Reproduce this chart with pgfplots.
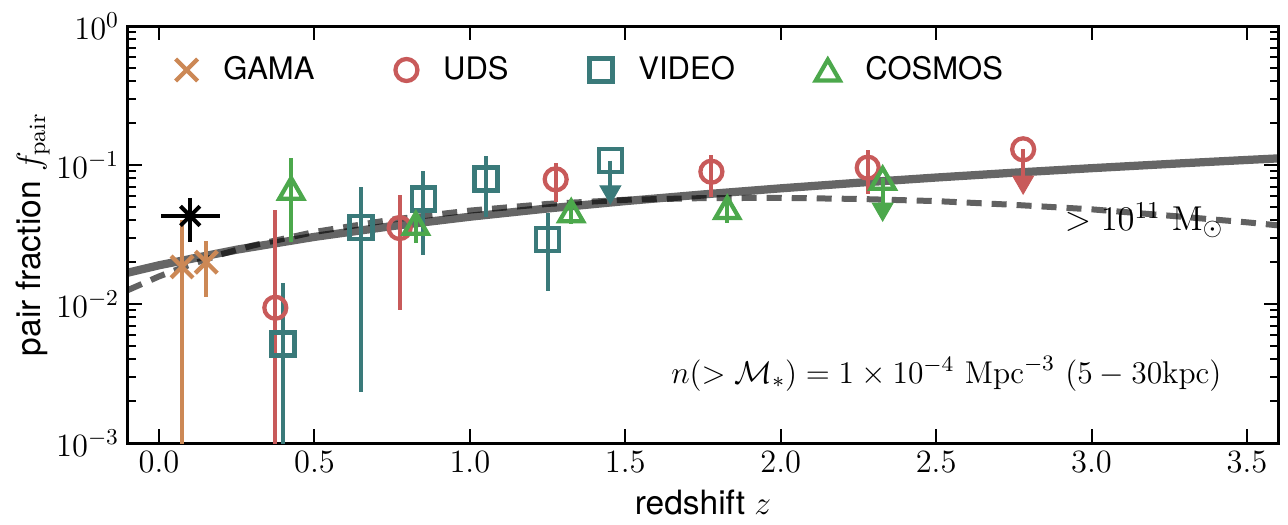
\RequirePackage{fix-cm}
\documentclass[border=0pt]{standalone}
\usepackage{pgfplots}
\pgfplotsset{compat=1.18}
\usepackage{fontspec}
\newfontfamily\heros{TeX Gyre Heros}
\definecolor{gama}{HTML}{CC8855}
\definecolor{uds}{HTML}{C85A5A}
\definecolor{video}{HTML}{3A7A7A}
\definecolor{cosmos}{HTML}{4CA84C}
\begin{document}
\begin{tikzpicture}
\begin{axis}[
 name=ax, scale only axis, width=460pt, height=166.8pt,
 ymode=log, xmin=-0.1, xmax=3.6, ymin=1e-3, ymax=1,
 xtick={0,0.5,1,1.5,2,2.5,3,3.5},
 xticklabel style={/pgf/number format/.cd, fixed, fixed zerofill, precision=1},
 minor x tick num=0,
 tick pos=both, tick align=inside,
 major tick length=5.6pt, minor tick length=3.2pt,
 every tick/.style={black, line width=0.8pt},
 axis line style={line width=1.2pt},
 tick label style={font=\fontsize{13}{15}\selectfont},
 label style={font=\heros\fontsize{13.4}{16}\selectfont},
 xlabel={redshift $z$}, ylabel={pair fraction $f_{\mathrm{pair}}$},
 ylabel style={at={(axis description cs:-0.083,0.5)}, anchor=center},
 legend style={at={(0.041,0.8945)}, anchor=west, draw=none, fill=none,
   inner sep=0pt, font=\heros\fontsize{12.4}{14}\selectfont,
   /tikz/every odd column/.append style={column sep=8.3pt},
   /tikz/every even column/.append style={column sep=30.4pt}},
 legend columns=4,
 legend image code/.code={\draw[#1, mark repeat=1] plot coordinates {(0pt,0pt)};},
]
% model curves
\addplot[black, opacity=0.6, line width=3.3pt, forget plot] coordinates {
(-0.1,0.01682)(0,0.0190)(0.25,0.02461)(0.5,0.03041)(0.75,0.03637)(1.0,0.04246)
(1.25,0.04867)(1.5,0.0550)(1.75,0.06143)(2.0,0.06796)(2.25,0.07457)(2.5,0.08126)
(2.75,0.08804)(3.0,0.09488)(3.25,0.10178)(3.5,0.10876)(3.6,0.11158)};
\addplot[black, opacity=0.62, line width=2.4pt, dash pattern=on 6pt off 4pt, forget plot] coordinates {
(-0.1,0.0126)(0,0.0158)(0.1,0.0192)(0.2,0.0228)(0.3,0.0263)(0.5,0.0330)(0.75,0.0405)
(1.0,0.0470)(1.25,0.0525)(1.5,0.0562)(1.75,0.0578)(2.0,0.0580)(2.25,0.0570)(2.5,0.0550)
(2.75,0.0517)(3.0,0.0480)(3.25,0.0432)(3.5,0.0387)(3.6,0.0368)};
% black reference point
\addplot[only marks, mark=x, mark size=5.5pt, black, mark options={line width=1.6pt}, forget plot,
  error bars/.cd, x dir=both, x explicit, y dir=both, y explicit, error mark=none,
  error bar style={line width=1.5pt, black}]
  coordinates {(0.10,0.043) +- (0.095,0.015)};
% GAMA
\addplot[only marks, mark=x, mark size=6.2pt, gama, mark options={line width=1.7pt},
  error bars/.cd, y dir=both, y explicit, error mark=none, error bar style={line width=1.6pt, gama}]
  table[x=z, y=f, y error plus=ep, y error minus=em] {
z f ep em
0.074 0.0185 0.0215 0.018
0.152 0.0200 0.0084 0.0088
};
\addlegendentry{GAMA}
% UDS
\addplot[only marks, mark=o, mark size=4.4pt, uds, mark options={fill=white, line width=1.7pt},
  error bars/.cd, y dir=both, y explicit, error mark=none, error bar style={line width=1.6pt, uds}]
  table[x=z, y=f, y error plus=ep, y error minus=em] {
z f ep em
0.374 0.0094 0.0381 0.0089
0.774 0.0352 0.0256 0.0261
1.276 0.0789 0.0241 0.0245
1.777 0.0895 0.0285 0.0305
2.280 0.0957 0.0323 0.0339
};
\addlegendentry{UDS}
% VIDEO
\addplot[only marks, mark=square, mark size=4.6pt, video, mark options={fill=white, line width=1.8pt},
  error bars/.cd, y dir=both, y explicit, error mark=none, error bar style={line width=1.6pt, video}]
  table[x=z, y=f, y error plus=ep, y error minus=em] {
z f ep em
0.398 0.00515 0.00901 0.00465
0.650 0.0354 0.0341 0.03306
0.850 0.0569 0.0341 0.0344
1.052 0.0793 0.0367 0.0373
1.250 0.0292 0.0162 0.0167
};
\addlegendentry{VIDEO}
% COSMOS
\addplot[only marks, mark=triangle, mark size=5.5pt, cosmos, mark options={fill=white, line width=1.7pt, yshift=-1.4pt},
  error bars/.cd, y dir=both, y explicit, error mark=none, error bar style={line width=1.6pt, cosmos}]
  table[x=z, y=f, y error plus=ep, y error minus=em] {
z f ep em
0.425 0.068 0.044 0.040
0.826 0.038 0.011 0.0105
1.326 0.0467 0.0083 0.009
1.828 0.0493 0.0087 0.0108
};
\addlegendentry{COSMOS}
% upper limits (marker plus downward arrow)
\addplot[only marks, mark=o, mark size=4.4pt, uds, mark options={fill=white, line width=1.7pt}, forget plot,
  error bars/.cd, y dir=minus, y explicit,
  error mark=triangle*, error mark options={rotate=270, mark size=4.8pt, fill=uds, draw=uds, line width=0.4pt},
  error bar style={line width=1.6pt, uds}]
  table[x=z, y=f, y error minus=em] {
z f em
2.78 0.1297 0.0579
};
\addplot[only marks, mark=square, mark size=4.6pt, video, mark options={fill=white, line width=1.8pt}, forget plot,
  error bars/.cd, y dir=minus, y explicit,
  error mark=triangle*, error mark options={rotate=270, mark size=4.8pt, fill=video, draw=video, line width=0.4pt},
  error bar style={line width=1.6pt, video}]
  table[x=z, y=f, y error minus=em] {
z f em
1.452 0.1074 0.0463
};
\addplot[only marks, mark=triangle, mark size=5.5pt, cosmos, mark options={fill=white, line width=1.7pt, yshift=-1.4pt}, forget plot,
  error bars/.cd, y dir=minus, y explicit,
  error mark=triangle*, error mark options={rotate=270, mark size=4.8pt, fill=cosmos, draw=cosmos, line width=0.4pt},
  error bar style={line width=1.6pt, cosmos}]
  table[x=z, y=f, y error minus=em] {
z f em
2.328 0.0802 0.0343
};
\node[anchor=base east, font=\fontsize{12.6}{15}\selectfont, inner sep=0pt] at (axis cs:3.4193,0.0027)
  {$n(>\mathcal{M}_*) = 1\times10^{-4}\ \mathrm{Mpc}^{-3}\ (5-30\mathrm{kpc})$};
\node[anchor=base west, font=\fontsize{13.8}{16}\selectfont, inner sep=0pt] at (axis cs:2.913,0.0337)
  {$>10^{11}\ \mathrm{M}_\odot$};
\end{axis}
\pgfresetboundingbox
\useasboundingbox ([shift={(-51.2pt,-32.4pt)}]ax.south west) rectangle ([shift={(4pt,10.4pt)}]ax.north east);
\end{tikzpicture}
\end{document}
